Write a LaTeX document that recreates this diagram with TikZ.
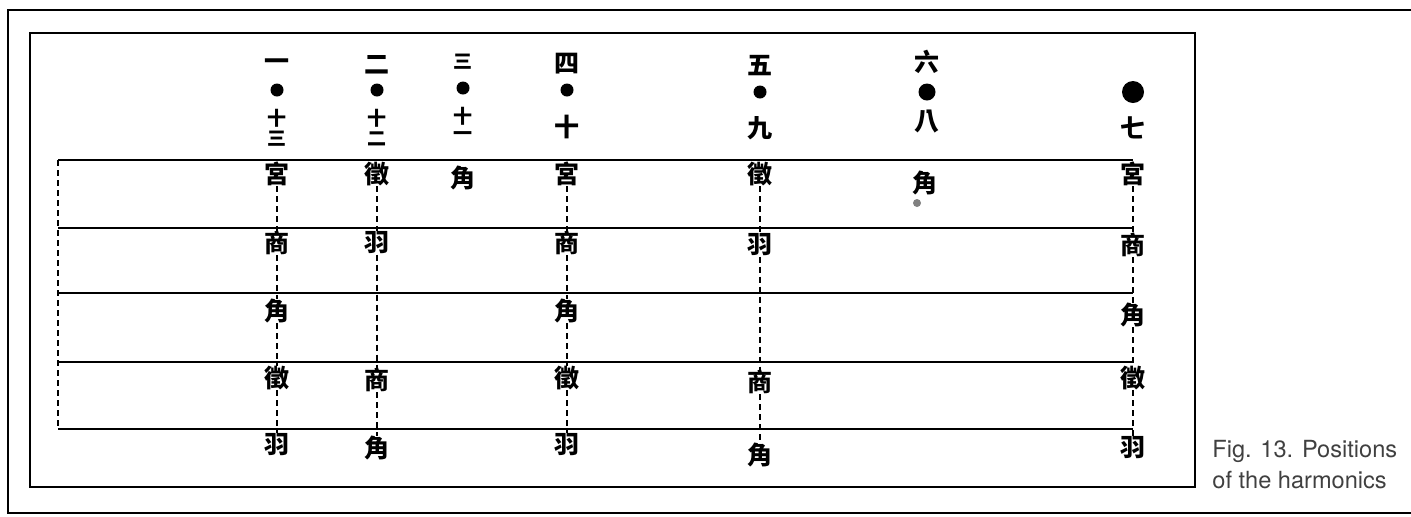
\documentclass[tikz,border=0pt]{standalone}
\usepackage{fontspec}
\setsansfont{TeX Gyre Heros}
\newfontfamily\cjk{Noto Sans CJK TC}
\usetikzlibrary{positioning}
\tikzset{
  yin/.style={font=\cjk\bfseries\fontsize{12.5}{12.5}\selectfont, inner sep=0pt},
  small/.style={font=\cjk\bfseries\fontsize{9.5}{9.5}\selectfont, inner sep=0pt},
  hui/.style={circle, fill=black, inner sep=0pt, minimum size=6.5pt},
  fretline/.style={dashed, dash pattern=on 3pt off 2pt, line width=0.7pt},
  string/.style={line width=1.3pt},
  frame/.style={line width=1pt}
}

\begin{document}
\begin{tikzpicture}[x=0.5pt, y=-0.5pt]
\useasboundingbox (0,0) rectangle (1411,516);
% frames
\draw[frame] (1411,10) -- (8,10) -- (8,513) -- (1411,513);
\draw[frame] (30,33) rectangle (1195,487);
% strings
\foreach \s/\y in {1/160, 2/228, 3/293, 4/362, 5/429} {
  \coordinate (l\s) at (58,\y);
  \coordinate (r\s) at (1133,\y);
  \draw[string] (l\s) -- (r\s);
}
\draw[fretline] (l1) -- (l5);

% column one / thirteen
\node[yin] (a0) at (277,65) {一};
\node[hui] (ad) at (277,90) {};
\node[small] (at1) at (277,118) {十};
\node[small] (at2) at (277,139) {三};
\node[yin] (a1) at (277,174) {宮};
\node[yin] (a2) at (277,243) {商};
\node[yin] (a3) at (277,311) {角};
\node[yin] (a4) at (277,378) {徵};
\node[yin] (a5) at (277,445) {羽};

% column two / twelve
\node[yin] (b0) at (377,65) {二};
\node[hui] (bd) at (377,90) {};
\node[small] (bt1) at (377,118) {十};
\node[small] (bt2) at (377,139) {二};
\node[yin] (b1) at (377,174) {徵};
\node[yin] (b2) at (377,243) {羽};
\node[yin] (b4) at (377,380) {商};
\node[yin] (b5) at (377,448) {角};

% column three / eleven
\node[small] (c0) at (463,62) {三};
\node[hui] (cd) at (463,88) {};
\node[small] (ct1) at (463,116) {十};
\node[small] (ct2) at (463,136) {一};
\node[yin] (c1) at (463,178) {角};

% column four / ten
\node[yin] (d0) at (567,64) {四};
\node[hui] (dd) at (567,90) {};
\node[yin] (dt) at (567,127) {十};
\node[yin] (d1) at (567,174) {宮};
\node[yin] (d2) at (567,243) {商};
\node[yin] (d3) at (567,311) {角};
\node[yin] (d4) at (567,378) {徵};
\node[yin] (d5) at (567,445) {羽};

% column five / nine
\node[yin] (e0) at (760,66) {五};
\node[hui] (ed) at (760,92) {};
\node[yin] (et) at (760,128) {九};
\node[yin] (e1) at (760,174) {徵};
\node[yin] (e2) at (760,245) {羽};
\node[yin] (e4) at (760,382) {商};
\node[yin] (e5) at (760,455) {角};

% column six / eight
\node[yin] (f0) at (927,62) {六};
\node[hui, minimum size=8.5pt] (fd) at (927,92) {};
\node[yin] (ft) at (927,122) {八};
\node[yin] (f1) at (925,183) {角};
\node[circle, fill=gray, inner sep=0pt, minimum size=4pt] (fx) at (917,203) {};

% column seven
\node[hui, minimum size=11pt] (gd) at (1133,92) {};
\node[yin] (gt) at (1133,128) {七};
\node[yin] (g1) at (1133,174) {宮};
\node[yin] (g2) at (1133,245) {商};
\node[yin] (g3) at (1133,315) {角};
\node[yin] (g4) at (1133,378) {徵};
\node[yin] (g5) at (1133,448) {羽};

% dashed links
\draw[fretline] (a1) -- (a2) (a2) -- (a3) (a3) -- (a4) (a4) -- (a5);
\draw[fretline] (b1) -- (b2) (b2) -- (b4) (b4) -- (b5);
\draw[fretline] (d1) -- (d2) (d2) -- (d3) (d3) -- (d4) (d4) -- (d5);
\draw[fretline] (e1) -- (e2) (e2) -- (e4) (e4) -- (e5);
\draw[fretline] (g1) -- (g2) (g2) -- (g3) (g3) -- (g4) (g4) -- (g5);

% caption
\node[anchor=north west, align=left, inner sep=0pt, text=black!75,
      font=\sffamily\fontsize{11.8}{15.5}\selectfont] (cap) at (1212,440)
  {Fig. 13. Positions\\of the harmonics};
\end{tikzpicture}
\end{document}
